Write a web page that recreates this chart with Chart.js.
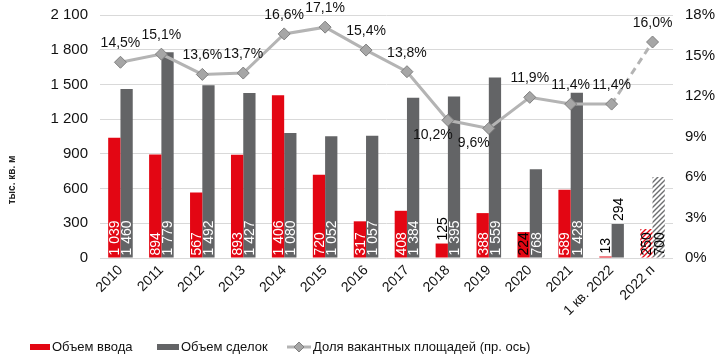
<!DOCTYPE html>
<html>
<head>
<meta charset="utf-8">
<script src="https://cdn.jsdelivr.net/npm/chart.js@4.4.1/dist/chart.umd.min.js"></script>
<style>
  html, body { margin: 0; background: #fff; }
</style>
</head>
<body>
<canvas id="chart" width="720" height="359"></canvas>
<script>
const categories = ['2010', '2011', '2012', '2013', '2014', '2015', '2016', '2017', '2018', '2019', '2020', '2021', '1 кв. 2022', '2022 п'];
const commissioning = [1039, 894, 567, 893, 1406, 720, 317, 408, 125, 388, 224, 589, 13, 250];
const deals = [1460, 1779, 1492, 1427, 1080, 1052, 1057, 1384, 1395, 1559, 768, 1428, 294, 700];
const vacancy = [14.5, 15.1, 13.6, 13.7, 16.6, 17.1, 15.4, 13.8, 10.2, 9.6, 11.9, 11.4, 11.4, 16.0];

const FONT = "'Liberation Sans', Arial, sans-serif";
const RED = '#e30613';
const GREY = '#636466';
const LINE = '#b4b4b4';
const forecastIdx = categories.length - 1;

// bar labels that sit above the bar instead of inside its base
const labelsAbove = [[8, 12], [12]];
// vacancy labels drawn below-left of the point
const vacancyBelow = [8, 9];

const canvas = document.getElementById('chart');
const mainCtx = canvas.getContext('2d');

function hatch(color) {
  const c = document.createElement('canvas');
  c.width = 5; c.height = 5;
  const g = c.getContext('2d');
  g.fillStyle = '#fff';
  g.fillRect(0, 0, 5, 5);
  g.strokeStyle = color;
  g.lineWidth = 1.4;
  g.beginPath();
  g.moveTo(-1, 6); g.lineTo(6, -1);
  g.moveTo(-1, 1); g.lineTo(1, -1);
  g.moveTo(4, 6); g.lineTo(6, 4);
  g.stroke();
  return mainCtx.createPattern(c, 'repeat');
}

const redFill = categories.map((c, i) => i === forecastIdx ? hatch(RED) : RED);
const greyFill = categories.map((c, i) => i === forecastIdx ? hatch('#6d6e70') : GREY);

const fmtNum = v => String(v).replace(/\B(?=(\d{3})+(?!\d))/g, ' ');
const fmtPct = v => v.toFixed(1).replace('.', ',') + '%';

const labelsPlugin = {
  id: 'labels',
  afterDatasetsDraw(chart) {
    const ctx = chart.ctx;
    ctx.save();
    ctx.font = '14px ' + FONT;
    [0, 1].forEach(di => {
      const meta = chart.getDatasetMeta(di);
      const vals = chart.data.datasets[di].data;
      meta.data.forEach((bar, i) => {
        const txt = fmtNum(vals[i]);
        const w = ctx.measureText(txt).width;
        const h = bar.base - bar.y;
        const above = labelsAbove[di].includes(i);
        let color = '#fff';
        if (above || i === forecastIdx || h < w + 8) color = '#000';
        const y = above ? bar.y - 3 : bar.base - 2;
        ctx.save();
        ctx.translate(bar.x + 1, y);
        ctx.rotate(-Math.PI / 2);
        ctx.fillStyle = color;
        ctx.textAlign = 'left';
        ctx.textBaseline = 'middle';
        ctx.fillText(txt, 0, 0);
        ctx.restore();
      });
    });
    const lineMeta = chart.getDatasetMeta(2);
    ctx.fillStyle = '#111';
    ctx.textAlign = 'center';
    ctx.textBaseline = 'middle';
    lineMeta.data.forEach((pt, i) => {
      const txt = fmtPct(vacancy[i]);
      if (vacancyBelow.includes(i)) {
        ctx.fillText(txt, pt.x - 15, pt.y + 15);
      } else {
        ctx.fillText(txt, pt.x, pt.y - 19);
      }
    });
    ctx.restore();
  },
  afterDraw(chart) {
    const ctx = chart.ctx;
    ctx.save();
    // axis title
    ctx.font = 'bold 10px ' + FONT;
    ctx.fillStyle = '#222';
    ctx.translate(12, 180);
    ctx.rotate(-Math.PI / 2);
    ctx.textAlign = 'center';
    ctx.textBaseline = 'middle';
    ctx.fillText('тыс. кв. м', 0, 0);
    ctx.restore();

    // legend
    ctx.save();
    const ly = 347;
    ctx.font = '13px ' + FONT;
    ctx.textBaseline = 'middle';
    ctx.textAlign = 'left';
    ctx.fillStyle = RED;
    ctx.fillRect(30, ly - 3, 20, 6);
    ctx.fillStyle = '#111';
    ctx.fillText('Объем ввода', 52, ly);
    ctx.fillStyle = GREY;
    ctx.fillRect(157, ly - 3, 22, 6);
    ctx.fillStyle = '#111';
    ctx.fillText('Объем сделок', 181, ly);
    ctx.strokeStyle = LINE;
    ctx.lineWidth = 3;
    ctx.beginPath();
    ctx.moveTo(287, ly); ctx.lineTo(311, ly);
    ctx.stroke();
    ctx.fillStyle = '#a6a6a6';
    ctx.strokeStyle = '#808080';
    ctx.lineWidth = 1;
    ctx.beginPath();
    ctx.moveTo(299, ly - 5); ctx.lineTo(304, ly); ctx.lineTo(299, ly + 5); ctx.lineTo(294, ly);
    ctx.closePath();
    ctx.fill(); ctx.stroke();
    ctx.fillStyle = '#111';
    ctx.fillText('Доля вакантных площадей (пр. ось)', 313, ly);
    ctx.restore();
  }
};

const fitVertical = w => s => { s.width = w; s.paddingTop = 0; s.paddingBottom = 0; };

new Chart(canvas, {
  type: 'bar',
  data: {
    labels: categories,
    datasets: [
      {
        label: 'Объем ввода',
        data: commissioning,
        backgroundColor: redFill,
        yAxisID: 'y',
        order: 2,
        categoryPercentage: 0.6,
        barPercentage: 1.0
      },
      {
        label: 'Объем сделок',
        data: deals,
        backgroundColor: greyFill,
        yAxisID: 'y',
        order: 2,
        categoryPercentage: 0.6,
        barPercentage: 1.0
      },
      {
        type: 'line',
        label: 'Доля вакантных площадей (пр. ось)',
        data: vacancy,
        yAxisID: 'y2',
        order: 0,
        borderColor: LINE,
        borderWidth: 3,
        pointStyle: 'rectRot',
        pointRadius: 6,
        pointBackgroundColor: '#a6a6a6',
        pointBorderColor: '#7f7f7f',
        pointBorderWidth: 1,
        segment: {
          borderDash: c => c.p1DataIndex === forecastIdx ? [7, 5] : undefined
        }
      }
    ]
  },
  options: {
    responsive: false,
    animation: false,
    layout: { padding: { top: 15, left: 0, right: 0, bottom: 0 } },
    plugins: {
      legend: { display: false },
      tooltip: { enabled: false }
    },
    scales: {
      x: {
        grid: { display: false, drawTicks: false },
        border: { display: false },
        ticks: {
          autoSkip: false,
          minRotation: 45,
          maxRotation: 45,
          padding: 4,
          color: '#111',
          font: { family: FONT, size: 14 }
        },
        afterFit: s => { s.height = 101; }
      },
      y: {
        position: 'left',
        min: 0,
        max: 2100,
        grid: { color: '#d9d9d9', lineWidth: 1, drawTicks: false },
        border: { display: false },
        ticks: {
          stepSize: 300,
          padding: 12,
          color: '#111',
          font: { family: FONT, size: 15 },
          callback: v => fmtNum(v)
        },
        afterFit: fitVertical(100)
      },
      y2: {
        position: 'right',
        min: 0,
        max: 18,
        grid: { display: false, drawTicks: false },
        border: { display: false },
        ticks: {
          stepSize: 3,
          padding: 12,
          color: '#111',
          font: { family: FONT, size: 15 },
          callback: v => v + '%'
        },
        afterFit: fitVertical(47)
      }
    }
  },
  plugins: [labelsPlugin]
});
</script>
</body>
</html>
